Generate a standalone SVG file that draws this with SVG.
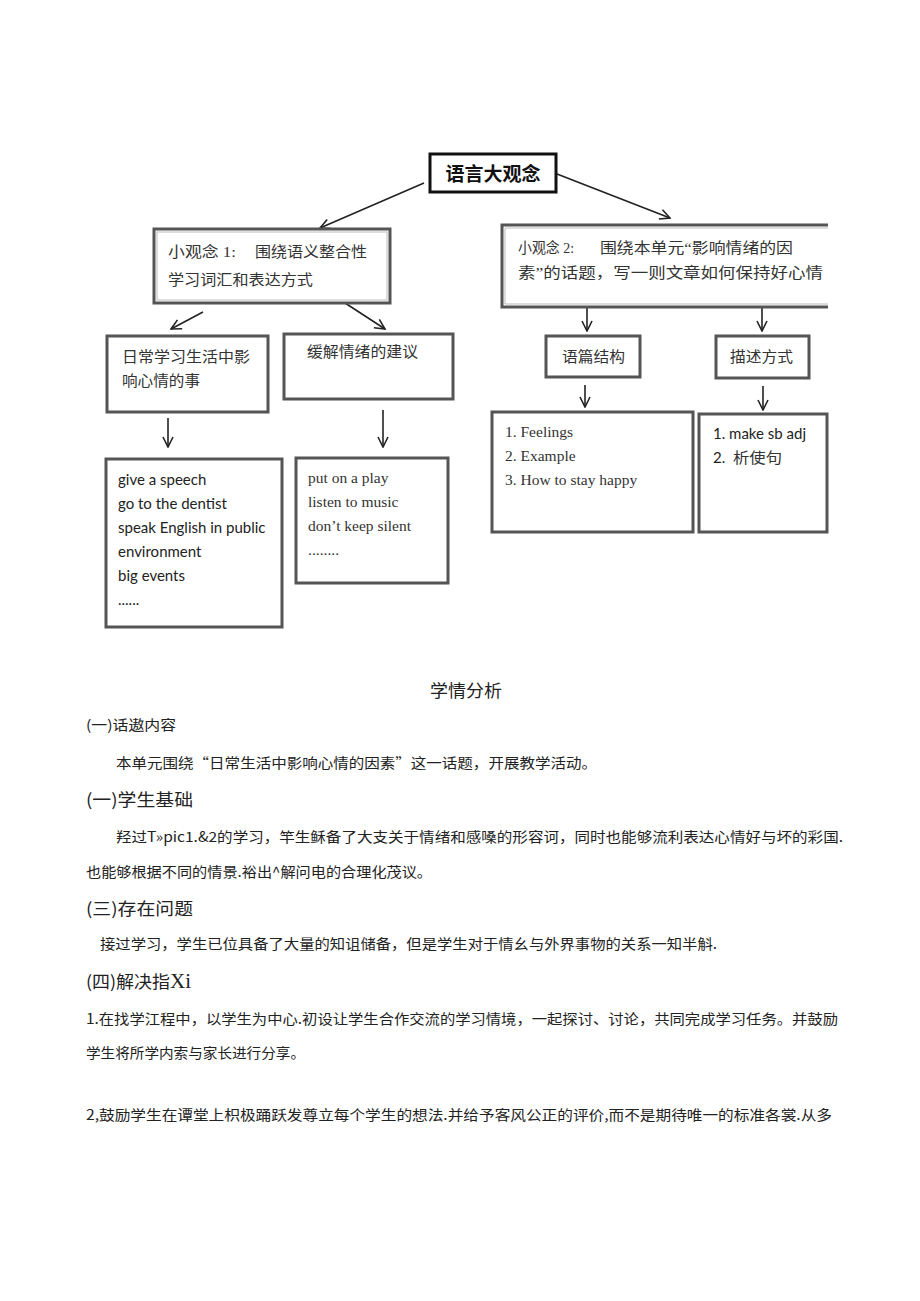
<svg xmlns="http://www.w3.org/2000/svg" width="920" height="1301" viewBox="0 0 920 1301">
<style>
.bx{fill:#fff;stroke:#555;stroke-width:3}
.bxi{fill:none;stroke:#aaa;stroke-width:0.8}
.cn{font-family:"Liberation Serif","Noto Sans CJK SC",serif;font-size:15px;fill:#333}
.ser{font-family:"Liberation Serif","Noto Sans CJK SC",serif;font-size:15.5px;fill:#333}
.sans{font-family:Lato,"Liberation Sans","Noto Sans CJK SC",sans-serif;font-size:15px;fill:#222}
.body{font-family:"Noto Sans CJK SC",sans-serif;font-size:14px;fill:#222}
.h{font-family:"Noto Sans CJK SC",sans-serif;font-size:17px;fill:#222}
.con line{stroke:#222;stroke-width:1.6;marker-end:url(#ah)}
</style>
<defs>
<marker id="ah" viewBox="0 0 12 12" refX="11" refY="6" markerWidth="12" markerHeight="12" markerUnits="userSpaceOnUse" orient="auto">
<path d="M1,1 L11,6 L1,11" fill="none" stroke="#222" stroke-width="1.6"/>
</marker>
</defs>
<rect width="920" height="1301" fill="#fff"/>

<g id="connectors" class="con">
<line x1="424" y1="183" x2="320" y2="228"/>
<line x1="557" y1="174" x2="670" y2="218"/>
<line x1="203" y1="312" x2="171" y2="329"/>
<line x1="342" y1="301" x2="385" y2="329"/>
<line x1="168" y1="418" x2="168" y2="447"/>
<line x1="383" y1="410" x2="383" y2="447"/>
<line x1="587" y1="307" x2="587" y2="331"/>
<line x1="762" y1="307" x2="762" y2="331"/>
<line x1="585" y1="385" x2="585" y2="407"/>
<line x1="763" y1="386" x2="763" y2="410"/>
</g>

<g id="big-idea">
<rect x="430" y="154" width="126" height="38" fill="#fff" stroke="#111" stroke-width="3"/>
<text x="493" y="181" text-anchor="middle" font-family="'Noto Sans CJK SC',sans-serif" font-size="19" font-weight="bold" fill="#111">语言大观念</text>
</g>

<g id="idea1">
<rect class="bx" x="154" y="229" width="236" height="74"/>
<rect class="bxi" x="157" y="232" width="230" height="68"/>
<text class="cn" x="168" y="257" textLength="68" lengthAdjust="spacingAndGlyphs">小观念 1:</text>
<text class="cn" x="255" y="257" textLength="112" lengthAdjust="spacingAndGlyphs">围绕语义整合性</text>
<text class="cn" x="168" y="285" textLength="145" lengthAdjust="spacingAndGlyphs">学习词汇和表达方式</text>
</g>

<g id="idea2">
<path d="M828,225 H502 V307 H828" fill="none" stroke="#555" stroke-width="3"/>
<path d="M828,228 H505 V304 H828" fill="none" stroke="#aaa" stroke-width="0.8"/>
<text class="cn" x="518" y="253" textLength="56" lengthAdjust="spacingAndGlyphs">小观念 2:</text>
<text class="cn" x="600" y="253" textLength="193" lengthAdjust="spacingAndGlyphs">围绕本单元“影响情绪的因</text>
<text class="cn" x="518" y="278" textLength="305" lengthAdjust="spacingAndGlyphs">素”的话题，写一则文章如何保持好心情</text>
</g>

<g id="daily">
<rect class="bx" x="107" y="336" width="161" height="76"/>
<text class="cn" x="122" y="362" font-size="16.5" textLength="128" lengthAdjust="spacingAndGlyphs">日常学习生活中影</text>
<text class="cn" x="122" y="386" font-size="16.5" textLength="78" lengthAdjust="spacingAndGlyphs">响心情的事</text>
</g>

<g id="relieve">
<rect class="bx" x="284" y="334" width="169" height="65"/>
<text class="cn" x="307" y="357" textLength="111" lengthAdjust="spacingAndGlyphs">缓解情绪的建议</text>
</g>

<g id="daily-list">
<rect class="bx" x="106" y="459" width="176" height="168"/>
<text class="sans" x="118" y="485">give a speech</text>
<text class="sans" x="118" y="509">go to the dentist</text>
<text class="sans" x="118" y="533">speak English in public</text>
<text class="sans" x="118" y="557">environment</text>
<text class="sans" x="118" y="581">big events</text>
<text class="sans" x="118" y="605" font-size="11" fill="#777">......</text>
</g>

<g id="relieve-list">
<rect class="bx" x="296" y="458" width="152" height="125"/>
<text class="ser" x="308" y="483">put on a play</text>
<text class="ser" x="308" y="507">listen to music</text>
<text class="ser" x="308" y="531">don’t keep silent</text>
<text class="ser" x="308" y="555" font-size="11" fill="#777">........</text>
</g>

<g id="structure">
<rect class="bx" x="546" y="336" width="94" height="41"/>
<text class="cn" x="562" y="362" font-size="16" textLength="63" lengthAdjust="spacingAndGlyphs">语篇结构</text>
</g>

<g id="describe">
<rect class="bx" x="716" y="336" width="93" height="42"/>
<text class="cn" x="730" y="362" font-size="16" textLength="63" lengthAdjust="spacingAndGlyphs">描述方式</text>
</g>

<g id="structure-list">
<rect class="bx" x="492" y="412" width="201" height="120"/>
<text class="ser" x="505" y="437">1. Feelings</text>
<text class="ser" x="505" y="461">2. Example</text>
<text class="ser" x="505" y="485">3. How to stay happy</text>
</g>

<g id="describe-list">
<rect class="bx" x="699" y="414" width="128" height="118"/>
<text class="sans" x="713" y="439">1. make sb adj</text>
<text class="sans" x="713" y="463">2.</text>
<text class="cn" x="733" y="463" font-size="16" fill="#444" textLength="49" lengthAdjust="spacingAndGlyphs">析使句</text>
</g>

<g id="analysis">
<text class="h" x="466" y="697" text-anchor="middle" textLength="72" lengthAdjust="spacingAndGlyphs">学情分析</text>
<text class="body" x="86" y="730" textLength="90" lengthAdjust="spacingAndGlyphs">(一)话遨内容</text>
<text class="body" x="116" y="768" textLength="481" lengthAdjust="spacingAndGlyphs">本单元围绕“日常生活中影响心情的因素”这一话题，开展教学活动。</text>
<text class="h" x="86" y="806" font-size="18" textLength="107" lengthAdjust="spacingAndGlyphs">(一)学生基础</text>
<text class="body" x="116" y="842" textLength="727" lengthAdjust="spacingAndGlyphs">羟过T»pic1.&amp;2的学习，竿生稣备了大支关于情绪和感嗓的形容诃，同时也能够流利表达心情好与坏的彩国.</text>
<text class="body" x="86" y="877" textLength="346" lengthAdjust="spacingAndGlyphs">也能够根据不同的情景.裕出^解问电的合理化茂议。</text>
<text class="h" x="86" y="915" font-size="18" textLength="107" lengthAdjust="spacingAndGlyphs">(三)存在问题</text>
<text class="body" x="100" y="949" textLength="617" lengthAdjust="spacingAndGlyphs">接过学习，学生已位具备了大量的知诅储备，但是学生对于情幺与外界事物的关系一知半斛.</text>
<text class="h" x="86" y="988" font-size="18"><tspan textLength="84" lengthAdjust="spacingAndGlyphs">(四)解决指</tspan><tspan font-family="'Liberation Serif',serif" font-size="21">Xi</tspan></text>
<text class="body" x="86" y="1024" textLength="752" lengthAdjust="spacingAndGlyphs">1.在找学江程中，以学生为中心.初设让学生合作交流的学习情境，一起探讨、讨论，共同完成学习任务。并鼓励</text>
<text class="body" x="86" y="1058" textLength="219" lengthAdjust="spacingAndGlyphs">学生将所学内索与家长进行分享。</text>
<text class="body" x="86" y="1120" textLength="746" lengthAdjust="spacingAndGlyphs">2,鼓励学生在谭堂上枳极踊跃发尊立每个学生的想法.并给予客风公正的评价,而不是期待唯一的标准各裳.从多</text>
</g>
</svg>
